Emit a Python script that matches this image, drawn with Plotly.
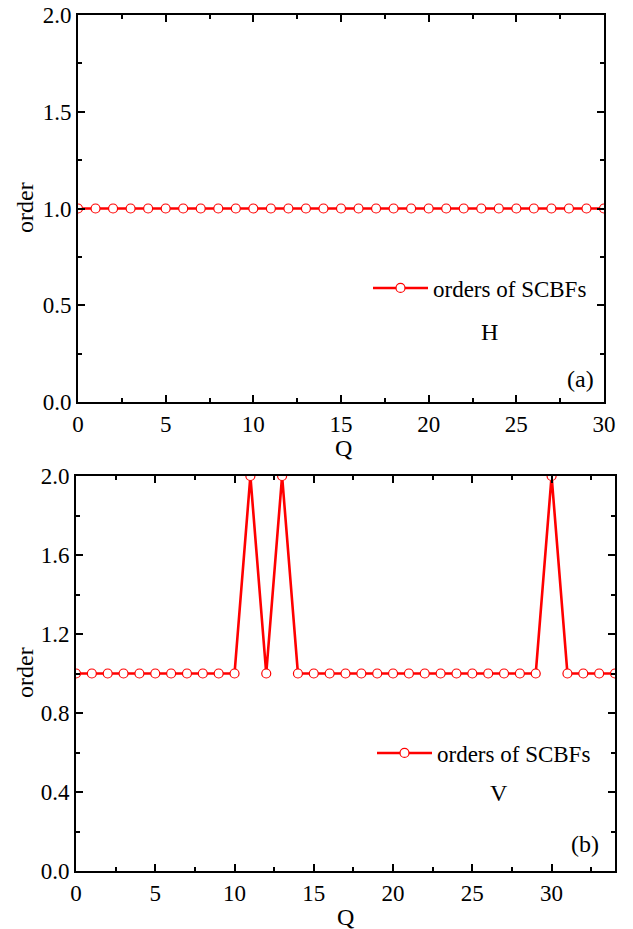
import plotly.graph_objects as go

# data
q_h = list(range(0, 31))
order_h = [1] * 31

q_v = list(range(0, 35))
order_v = [1, 1, 1, 1, 1, 1, 1, 1, 1, 1, 1, 2, 1, 2, 1, 1, 1, 1,
           1, 1, 1, 1, 1, 1, 1, 1, 1, 1, 1, 1, 2, 1, 1, 1, 1]

legend_label = "orders of SCBFs"
panel_tags = ["(a)", "(b)"]
panel_names = ["H", "V"]
x_title = "Q"
y_title = "order"

W, H = 633, 929
FONT = "Liberation Serif, Times New Roman, serif"
RED = "#ff0000"


def px_x(v):
    return v / W


def px_y(v):
    return 1 - v / H


fig = go.Figure()

for xs, ys, xa, ya, lg in [(q_h, order_h, "x", "y", "legend"), (q_v, order_v, "x2", "y2", "legend2")]:
    fig.add_trace(
        go.Scatter(
            x=xs,
            y=ys,
            xaxis=xa,
            yaxis=ya,
            mode="lines+markers",
            name=legend_label,
            legend=lg,
            line={"color": RED, "width": 2.6},
            marker={"symbol": "circle", "size": 9, "color": "white", "line": {"color": RED, "width": 1.2}},
            cliponaxis=True,
        )
    )

axis_common = {
    "showgrid": False,
    "zeroline": False,
    "showline": True,
    "automargin": False,
    "ticklabeloverflow": "allow",
    "linecolor": "black",
    "linewidth": 2,
    "mirror": "allticks",
    "ticks": "inside",
    "ticklen": 7,
    "tickwidth": 1.5,
    "tickcolor": "black",
    "tickfont": {"family": FONT, "size": 23, "color": "black"},
}
minor_common = {"ticks": "inside", "ticklen": 4, "tickcolor": "black", "tickwidth": 1.5}

fig.update_layout(
    width=W,
    height=H,
    margin={"l": 0, "r": 0, "t": 0, "b": 0},
    paper_bgcolor="white",
    plot_bgcolor="white",
    font={"family": FONT, "color": "black"},
    xaxis={
        **axis_common,
        "domain": [px_x(78), px_x(604)],
        "anchor": "y",
        "range": [0, 30],
        "dtick": 5,
        "minor": {"dtick": 2.5, **minor_common},
    },
    yaxis={
        **axis_common,
        "domain": [px_y(402), px_y(15)],
        "anchor": "x",
        "range": [0, 2],
        "dtick": 0.5,
        "tickformat": ".1f",
        "minor": {"dtick": 0.25, **minor_common},
    },
    xaxis2={
        **axis_common,
        "domain": [px_x(76), px_x(615)],
        "anchor": "y2",
        "range": [0, 34],
        "dtick": 5,
        "minor": {"dtick": 2.5, **minor_common},
    },
    yaxis2={
        **axis_common,
        "domain": [px_y(871), px_y(476)],
        "anchor": "x2",
        "range": [0, 2],
        "dtick": 0.4,
        "tickformat": ".1f",
        "minor": {"dtick": 0.2, **minor_common},
    },
    legend={
        "x": px_x(368),
        "y": px_y(288),
        "xanchor": "left",
        "yanchor": "middle",
        "bgcolor": "rgba(0,0,0,0)",
        "itemwidth": 55,
        "font": {"family": FONT, "size": 23, "color": "black"},
    },
    legend2={
        "x": px_x(372),
        "y": px_y(753),
        "xanchor": "left",
        "yanchor": "middle",
        "bgcolor": "rgba(0,0,0,0)",
        "itemwidth": 55,
        "font": {"family": FONT, "size": 23, "color": "black"},
    },
    showlegend=True,
)

labels = [
    (panel_names[0], 489, 332, 0), (panel_tags[0], 580, 379, 0),
    (panel_names[1], 499, 793, 0), (panel_tags[1], 585, 844, 0),
    (x_title, 343, 448, 0), (x_title, 345, 917, 0),
    (y_title, 25, 208, -90), (y_title, 25, 673, -90),
]
for text, x, y, angle in labels:
    fig.add_annotation(
        x=px_x(x), y=px_y(y), xref="paper", yref="paper",
        text=text, showarrow=False, xanchor="center", yanchor="middle",
        textangle=angle,
        font={"family": FONT, "size": 24, "color": "black"},
    )

# drop the page's default 8px body margin so the figure fills the window
fig.write_html(
    "out.html",
    config={"displayModeBar": False},
    post_script="document.body.style.margin='0';",
)
